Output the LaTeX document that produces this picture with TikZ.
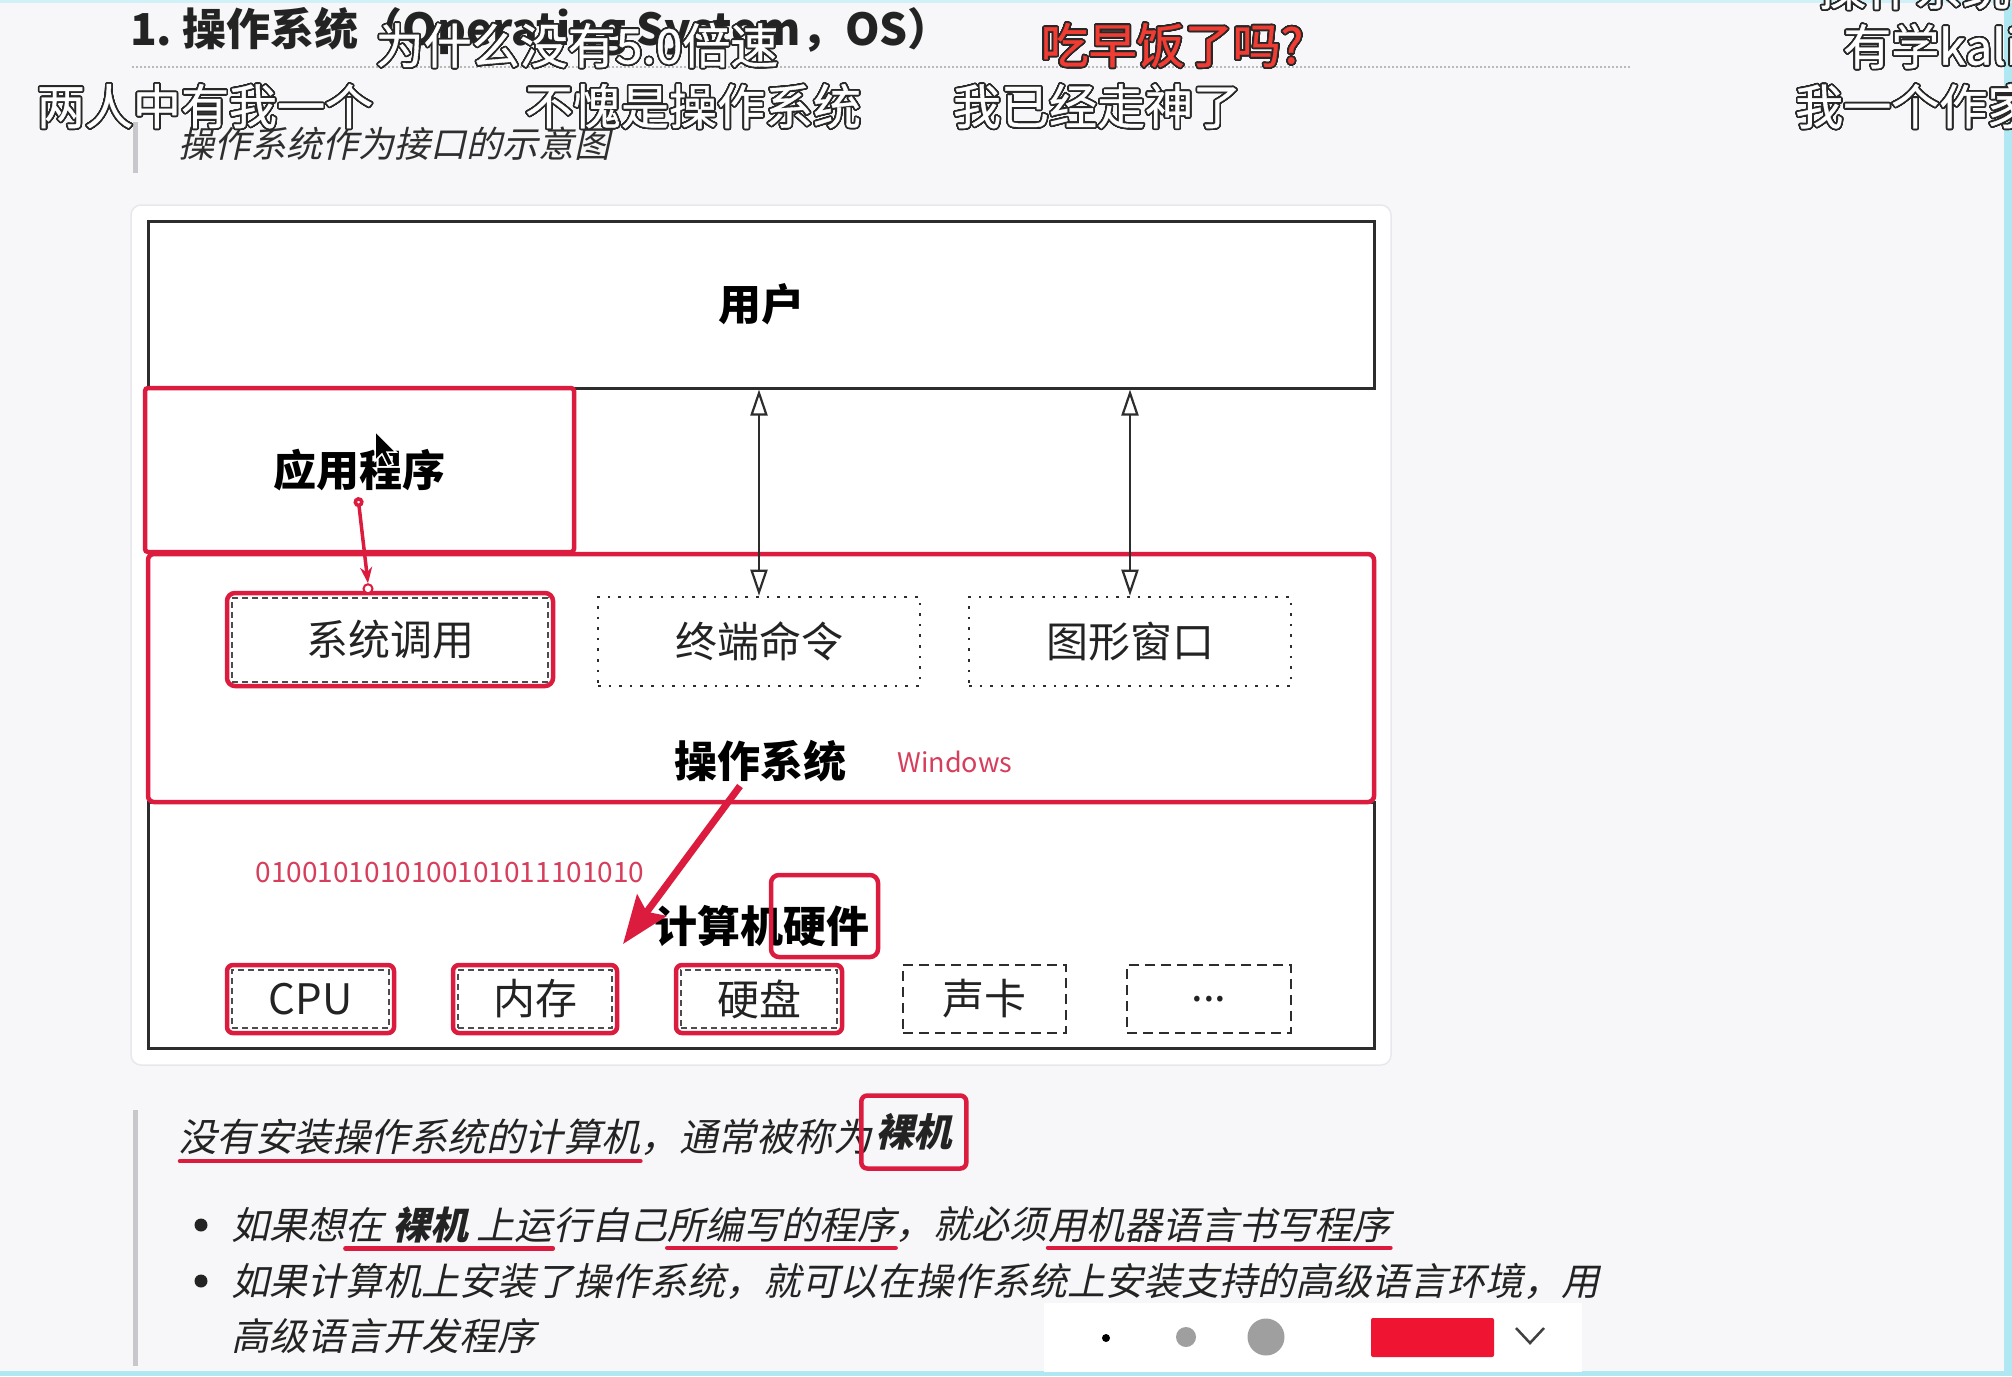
\documentclass[tikz,border=0pt]{standalone}
\usepackage{fontspec}
\setmainfont{Noto Sans CJK SC}
\newfontfamily\itfont[FakeSlant=0.22]{Noto Sans CJK SC}
\newfontfamily\dmkfont[FakeBold=0.8]{Noto Sans CJK SC}
\usepackage[copies]{contour}
\contourlength{1.7pt}
\contournumber{32}
\usetikzlibrary{arrows.meta,calc}
\newcommand\fsz[1]{\fontsize{#1}{#1}\selectfont}
\definecolor{bgc}{RGB}{247,246,248}
\definecolor{boxred}{RGB}{220,28,62}
\definecolor{lightred}{RGB}{214,62,92}
\definecolor{dred}{RGB}{240,60,50}
\definecolor{tbred}{RGB}{238,20,50}
\definecolor{linegray}{RGB}{45,45,45}
\definecolor{bargray}{RGB}{200,200,204}
\definecolor{txtdark}{RGB}{35,35,35}
\definecolor{cyanedge}{RGB}{175,232,242}
\definecolor{dmkout}{RGB}{40,40,40}
\definecolor{cardline}{RGB}{232,232,236}
\begin{document}
\begin{tikzpicture}[x=1pt,y=-1pt,
  blk/.style={draw=linegray, line width=3pt, inner sep=0pt},
  redbox/.style={draw=boxred, line width=4.5pt, rounded corners=5pt, inner sep=0pt},
  dotbox/.style={draw=linegray, line width=2.6pt, dash pattern=on 2.6pt off 8pt, inner sep=0pt},
  dashbox/.style={draw=linegray, line width=2.6pt, dash pattern=on 10pt off 6pt, inner sep=0pt},
  inbox/.style={draw=linegray!85, line width=2pt, dash pattern=on 6pt off 4pt, inner sep=0pt},
  lbl/.style={font=\fsz{42}, text=txtdark, inner sep=0pt},
  blbl/.style={font=\fsz{43}\bfseries, text=black, inner sep=0pt},
  dbl/.style={draw=linegray, line width=2.2pt, {Triangle[open,length=26pt,width=17pt]}-{Triangle[open,length=26pt,width=17pt]}},
  bodyt/.style={font=\itfont\fsz{38}, text=txtdark, inner sep=0pt, anchor=west},
  uline/.style={draw=boxred, line width=4.5pt, line cap=round},
  dmk/.style={font=\dmkfont\fsz{48}, inner sep=0pt, text=white},
  hwbox/.style={minimum width=#1, minimum height=68pt},
]
\useasboundingbox (0,0) rectangle (2012,1376);
\clip (0,0) rectangle (2012,1376);
\fill[bgc] (0,0) rectangle (2012,1376);
% video frame edges
\fill[cyanedge] (2004,0) rectangle (2012,1376);
\fill[cyanedge] (0,1371) rectangle (2012,1376);
\fill[cyanedge!60] (0,0) rectangle (2012,3);

% title
\node[anchor=west, font=\fsz{44}\bfseries, text=txtdark, inner sep=0pt] (title) at (130,32) {1.\ 操作系统（Operating System，OS）};
\coordinate (dl1) at (132,67);
\coordinate (dl2) at (1630,67);
\draw[gray!55, line width=2pt, dash pattern=on 2pt off 2pt] (dl1) -- (dl2);

% subtitle
\coordinate (sb1) at (135,122);
\coordinate (sb2) at (135,173);
\draw[bargray, line width=5pt] (sb1) -- (sb2);
\node[anchor=west, font=\itfont\fsz{36}, text=black!82, inner sep=0pt] (subt) at (178,144) {操作系统作为接口的示意图};

% card
\node[fill=white, draw=cardline, line width=1.5pt, rounded corners=10pt, minimum width=1260pt, minimum height=860pt, inner sep=0pt] (card) at (761,635) {};

% hardware layer
\node[blk, minimum width=1226pt, minimum height=246pt] (hw) at (761,925) {};
% os layer
\node[redbox, rounded corners=6pt, minimum width=1226pt, minimum height=248pt] (os) at (761,678) {};
% user
\node[blk, minimum width=1226pt, minimum height=167pt] (user) at (761,304.5) {\fsz{43}\bfseries 用户};
% app
\node[redbox, rounded corners=3pt, minimum width=429pt, minimum height=164pt] (app) at (359.5,470) {};
\node[blbl] (apptxt) at (359,470) {应用程序};

% os inner boxes
\node[inbox, minimum width=316pt, minimum height=84pt] (syscallin) at (390,640) {};
\node[redbox, rounded corners=8pt, minimum width=326pt, minimum height=93pt, font=\fsz{42}, text=txtdark] (syscall) at (390,639.5) {系统调用};
\node[dotbox, minimum width=322pt, minimum height=89pt, font=\fsz{42}, text=txtdark] (term) at (759,641.5) {终端命令};
\node[dotbox, minimum width=322pt, minimum height=89pt, font=\fsz{42}, text=txtdark] (gui) at (1130,641.5) {图形窗口};
\node[blbl] (ostxt) at (760,761) {操作系统};
\node[font=\fsz{27}, text=lightred, inner sep=0pt] (win) at (955,762) {Windows};

% hardware inner
\node[font=\fsz{28}, text=lightred, inner sep=0pt] (bin) at (450,873) {0100101010100101011101010};
\node[blbl] (hwtxt) at (762,926) {计算机硬件};
\node[redbox, rounded corners=8pt, minimum width=107pt, minimum height=82pt] (hwmark) at (824.5,916) {};

\node[inbox, hwbox=157pt, minimum height=58pt] (cpuin) at (310.5,999) {};
\node[redbox, rounded corners=6pt, hwbox=167pt, lbl] (cpu) at (310.5,999) {CPU};
\node[inbox, hwbox=154pt, minimum height=58pt] (memin) at (535,999) {};
\node[redbox, rounded corners=6pt, hwbox=164pt, lbl] (mem) at (535,999) {内存};
\node[inbox, hwbox=156pt, minimum height=58pt] (diskin) at (759,999) {};
\node[redbox, rounded corners=6pt, hwbox=166pt, lbl] (disk) at (759,999) {硬盘};
\node[dashbox, hwbox=163pt, lbl] (sound) at (984.5,999) {声卡};
\node[dashbox, hwbox=164pt, lbl] (etc) at (1209,999) {...};

% connectors
\draw[dbl] (term.north) -- (term.north |- user.south);
\draw[dbl] (gui.north) -- (gui.north |- user.south);

\node[circle, draw=boxred, fill=white, line width=2pt, inner sep=0pt, minimum size=9pt] (scdot) at ($(syscall.north)+(-22,-2)$) {};
\draw[draw=boxred, line width=3.5pt, {Circle[open,length=10pt,width=10pt,fill=white]}-{Stealth[length=16pt,width=12pt]}] ($(apptxt.south)+(-1,6)$) -- (scdot.north);

\coordinate (bigS) at (740,786);
\coordinate (bigE) at (623,944);
\draw[draw=boxred, line width=7pt, -{Stealth[length=48pt,width=36pt,inset=8pt]}] (bigS) -- (bigE);

% mouse cursor
\fill[black, draw=white, line width=1.5pt] (375,431) -- (375,461) -- (382,454) -- (388,466) -- (393,464) -- (387,452) -- (396,452) -- cycle;

% bottom text
\coordinate (bb1) at (135,1110);
\coordinate (bb2) at (135,1366);
\draw[bargray, line width=5pt] (bb1) -- (bb2);

\node[bodyt, font=\itfont\fsz{38.5}] (l1a) at (178,1137) {没有安装操作系统的计算机};
\node[bodyt, font=\itfont\fsz{38.5}] (l1b) at (l1a.east) {，通常被称为};
\node[bodyt, anchor=center, font=\itfont\fsz{38.5}\bfseries, draw=boxred, line width=4.5pt, rounded corners=6pt, minimum width=105pt, minimum height=73pt] (l1c) at ($(l1b.east)+(42,-5)$) {裸机};
\draw[uline] ($(l1a.south west)+(2,6)$) -- ($(l1a.south east)+(0,6)$);

\node[circle, fill=txtdark, inner sep=0pt, minimum size=13pt] (bul1) at (201,1225) {};
\node[bodyt] (b1a) at (231,1225) {如果想};
\node[bodyt] (b1b) at (b1a.east) {在 \textbf{裸机} 上运};
\node[bodyt] (b1c) at (b1b.east) {行自己};
\node[bodyt] (b1d) at (b1c.east) {所编写的程序};
\node[bodyt] (b1e) at (b1d.east) {，就必须};
\node[bodyt] (b1f) at (b1e.east) {用机器语言书写程序};
\draw[uline] ($(b1b.south west)+(0,5)$) -- ($(b1b.south east)+(0,5)$);
\draw[uline] ($(b1d.south west)+(0,5)$) -- ($(b1d.south east)+(0,5)$);
\draw[uline] ($(b1f.south west)+(0,5)$) -- ($(b1f.south east)+(0,5)$);

\node[circle, fill=txtdark, inner sep=0pt, minimum size=13pt] (bul2) at (201,1281) {};
\node[bodyt] (b2) at (231,1281) {如果计算机上安装了操作系统，就可以在操作系统上安装支持的高级语言环境，用};
\node[bodyt] (b3) at (231,1336) {高级语言开发程序};

% toolbar
\node[fill=white, minimum width=538pt, minimum height=69pt, inner sep=0pt] (tb) at (1313,1337.5) {};
\node[circle, fill=black, inner sep=0pt, minimum size=8pt] (tbd1) at (1106,1338) {};
\node[circle, fill=gray!75, inner sep=0pt, minimum size=20pt] (tbd2) at (1186,1337) {};
\node[circle, fill=gray!75, inner sep=0pt, minimum size=37pt] (tbd3) at (1266,1337) {};
\node[fill=tbred, rounded corners=2pt, minimum width=123pt, minimum height=39pt, inner sep=0pt] (tbr) at (1432.5,1337.5) {};
\coordinate (ch1) at (1516,1328);
\coordinate (ch2) at (1530,1343);
\coordinate (ch3) at (1544,1328);
\draw[black!75, line width=2.5pt] (ch1) -- (ch2) -- (ch3);

% danmaku overlay
\node[dmk, anchor=west] (dm0) at (1818,-12) {\contour{dmkout}{操作系统}};
\node[dmk] (dm1) at (577,46) {\contour{dmkout}{为什么没有5.0倍速}};
\node[dmk, text=dred] (dm2) at (1172,46) {\contour{dmkout}{吃早饭了吗?}};
\node[dmk, anchor=west] (dm3) at (1843,47) {\contour{dmkout}{有学kali}};
\node[dmk] (dm4) at (205,107) {\contour{dmkout}{两人中有我一个}};
\node[dmk] (dm5) at (693,107) {\contour{dmkout}{不愧是操作系统}};
\node[dmk] (dm6) at (1097,107) {\contour{dmkout}{我已经走神了}};
\node[dmk, anchor=west] (dm7) at (1795,107) {\contour{dmkout}{我一个作家}};
\end{tikzpicture}
\end{document}
